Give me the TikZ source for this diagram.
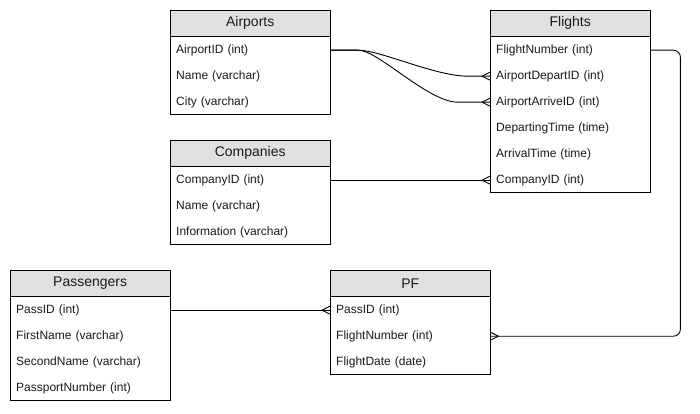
\documentclass[tikz,border=0pt]{standalone}
\usepackage{fontspec}
\setmainfont{Liberation Sans}
\definecolor{hdr}{HTML}{E0E0E0}
\definecolor{txt}{HTML}{1A1A1A}
\tikzset{
  hdrbox/.style={draw=black, fill=hdr, anchor=north west, minimum width=160pt, minimum height=26pt, inner sep=0pt, font=\fontsize{14}{16}\selectfont, text=txt},
  bodybox/.style={draw=black, fill=white, anchor=north west, minimum width=160pt, inner sep=0pt},
  rowbox/.style={anchor=north west, yshift=-1pt, minimum height=26pt, text width=148pt, inner xsep=6pt, inner ysep=0pt, align=left, font=\fontsize{12}{14}\selectfont, text=txt},
  conn/.style={draw=black, line width=0.9pt},
}
\newcommand{\footL}[1]{\draw[conn] ([xshift=-8pt]#1) -- ([yshift=4pt]#1) ([xshift=-8pt]#1) -- ([yshift=-4pt]#1);}
\newcommand{\footR}[1]{\draw[conn] ([xshift=8pt]#1) -- ([yshift=4pt]#1) ([xshift=8pt]#1) -- ([yshift=-4pt]#1);}
\begin{document}
\begin{tikzpicture}[x=1pt,y=-1pt]
\useasboundingbox (0,0) rectangle (700,414);
\fill[white] (0,0) rectangle (700,414);
% Airports
\node[bodybox, minimum height=78pt] (apb) at (170,36) {};
\node[hdrbox] (aph) at (170,10) {Airports};
\node[rowbox] (ap1) at (170,36) {AirportID (int)};
\node[rowbox] (ap2) at (170,62) {Name (varchar)};
\node[rowbox] (ap3) at (170,88) {City (varchar)};
% Flights
\node[bodybox, minimum height=156pt] (flb) at (490,36) {};
\node[hdrbox] (flh) at (490,10) {Flights};
\node[rowbox] (fl1) at (490,36) {FlightNumber (int)};
\node[rowbox] (fl2) at (490,62) {AirportDepartID (int)};
\node[rowbox] (fl3) at (490,88) {AirportArriveID (int)};
\node[rowbox] (fl4) at (490,114) {DepartingTime (time)};
\node[rowbox] (fl5) at (490,140) {ArrivalTime (time)};
\node[rowbox] (fl6) at (490,166) {CompanyID (int)};
% Companies
\node[bodybox, minimum height=78pt] (cob) at (170,166) {};
\node[hdrbox] (coh) at (170,140) {Companies};
\node[rowbox] (co1) at (170,166) {CompanyID (int)};
\node[rowbox] (co2) at (170,192) {Name (varchar)};
\node[rowbox] (co3) at (170,218) {Information (varchar)};
% Passengers
\node[bodybox, minimum height=104pt] (pab) at (10,296) {};
\node[hdrbox] (pah) at (10,270) {Passengers};
\node[rowbox] (pa1) at (10,296) {PassID (int)};
\node[rowbox] (pa2) at (10,322) {FirstName (varchar)};
\node[rowbox] (pa3) at (10,348) {SecondName (varchar)};
\node[rowbox] (pa4) at (10,374) {PassportNumber (int)};
% PF
\node[bodybox, minimum height=78pt] (pfb) at (330,296) {};
\node[hdrbox] (pfh) at (330,270) {PF};
\node[rowbox] (pf1) at (330,296) {PassID (int)};
\node[rowbox] (pf2) at (330,322) {FlightNumber (int)};
\node[rowbox] (pf3) at (330,348) {FlightDate (date)};
% connectors
\draw[conn] (ap1.east) -- ([xshift=28pt]ap1.east) .. controls ([xshift=50pt]ap1.east) and ([xshift=-55pt]fl2.west) .. ([xshift=-22pt]fl2.west) -- (fl2.west);
\footL{fl2.west}
\draw[conn] (ap1.east) -- ([xshift=28pt]ap1.east) .. controls ([xshift=48pt]ap1.east) and ([xshift=-62pt]fl3.west) .. ([xshift=-32pt]fl3.west) -- (fl3.west);
\footL{fl3.west}
\draw[conn] (co1.east) -- (fl6.west);
\footL{fl6.west}
\draw[conn] (pa1.east) -- (pf1.west);
\footL{pf1.west}
\coordinate (turn) at ([xshift=30pt]fl1.east);
\draw[conn, rounded corners=7pt] (fl1.east) -- (turn) |- (pf2.east);
\footR{pf2.east}
\end{tikzpicture}
\end{document}
